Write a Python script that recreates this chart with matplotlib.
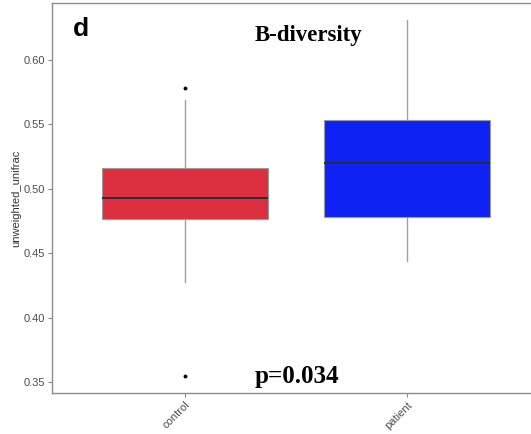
import matplotlib
matplotlib.use("Agg")
import matplotlib.pyplot as plt

plt.rcParams["font.family"] = ["Liberation Sans", "DejaVu Sans"]

# Box summary values
groups = ["control", "patient"]
box_colors = ["#DC2F3F", "#0E22F3"]
q1 = [0.4766, 0.478]
medians = [0.493, 0.520]
q3 = [0.516, 0.5534]
whisker_low = [0.4276, 0.444]
whisker_high = [0.569, 0.631]
outliers = [[0.578, 0.3547], []]

W, H = 531, 434
fig = plt.figure(figsize=(W / 100, H / 100), dpi=100)
# axes in pixel units; right side is cropped off as in the reference
left, right, top, bottom = 52, 540, 3, 393
ax = fig.add_axes([left / W, 1 - bottom / H, (right - left) / W, (bottom - top) / H])

stats = []
for i, name in enumerate(groups):
    stats.append(dict(label=name, med=medians[i], q1=q1[i], q3=q3[i],
                      whislo=whisker_low[i], whishi=whisker_high[i],
                      fliers=outliers[i]))

bp = ax.bxp(stats, positions=[1, 2], widths=0.75, patch_artist=True,
            showcaps=False,
            boxprops=dict(edgecolor="#9a9a9a", linewidth=0.8),
            whiskerprops=dict(color="#a0a0a0", linewidth=1.0),
            medianprops=dict(color="#2b2b3a", linewidth=1.4),
            flierprops=dict(marker="o", markersize=1.8, markerfacecolor="black",
                            markeredgecolor="black"))
for patch, c in zip(bp["boxes"], box_colors):
    patch.set_facecolor(c)
for w in bp["whiskers"]:
    w.set_zorder(1)

ax.set_xlim(0.4, 2.6)
ax.set_ylim(0.3415, 0.644)
ax.set_yticks([0.35, 0.40, 0.45, 0.50, 0.55, 0.60])
ax.set_yticklabels(["0.35", "0.40", "0.45", "0.50", "0.55", "0.60"])
ax.set_xticks([1, 2])
ax.set_xticklabels(groups, rotation=45, ha="right", va="top",
                   rotation_mode="anchor")

for s in ["left", "bottom", "top", "right"]:
    ax.spines[s].set_color("#8c8c8c")
    ax.spines[s].set_linewidth(1.0)
ax.tick_params(axis="both", colors="#8c8c8c", length=3, width=0.8,
               labelcolor="#4d4d4d", labelsize=8)
ax.tick_params(axis="y", pad=2)
ax.tick_params(axis="x", pad=2)

ax.set_ylabel("unweighted_unifrac", fontsize=8, color="#333333", labelpad=2)

fig.text(73 / W, 1 - 29 / H, "d", fontsize=19, fontweight="bold",
         va="center", ha="left", family="Liberation Sans")
fig.text(309 / W, 1 - 36 / H, "B-diversity", fontsize=16.5, fontweight="bold",
         va="center", ha="center", family="Liberation Serif")
fig.text(297 / W, 1 - 377 / H, "p=0.034", fontsize=18, fontweight="bold",
         va="center", ha="center", family="Liberation Serif")

fig.savefig("out.png", dpi=100)
